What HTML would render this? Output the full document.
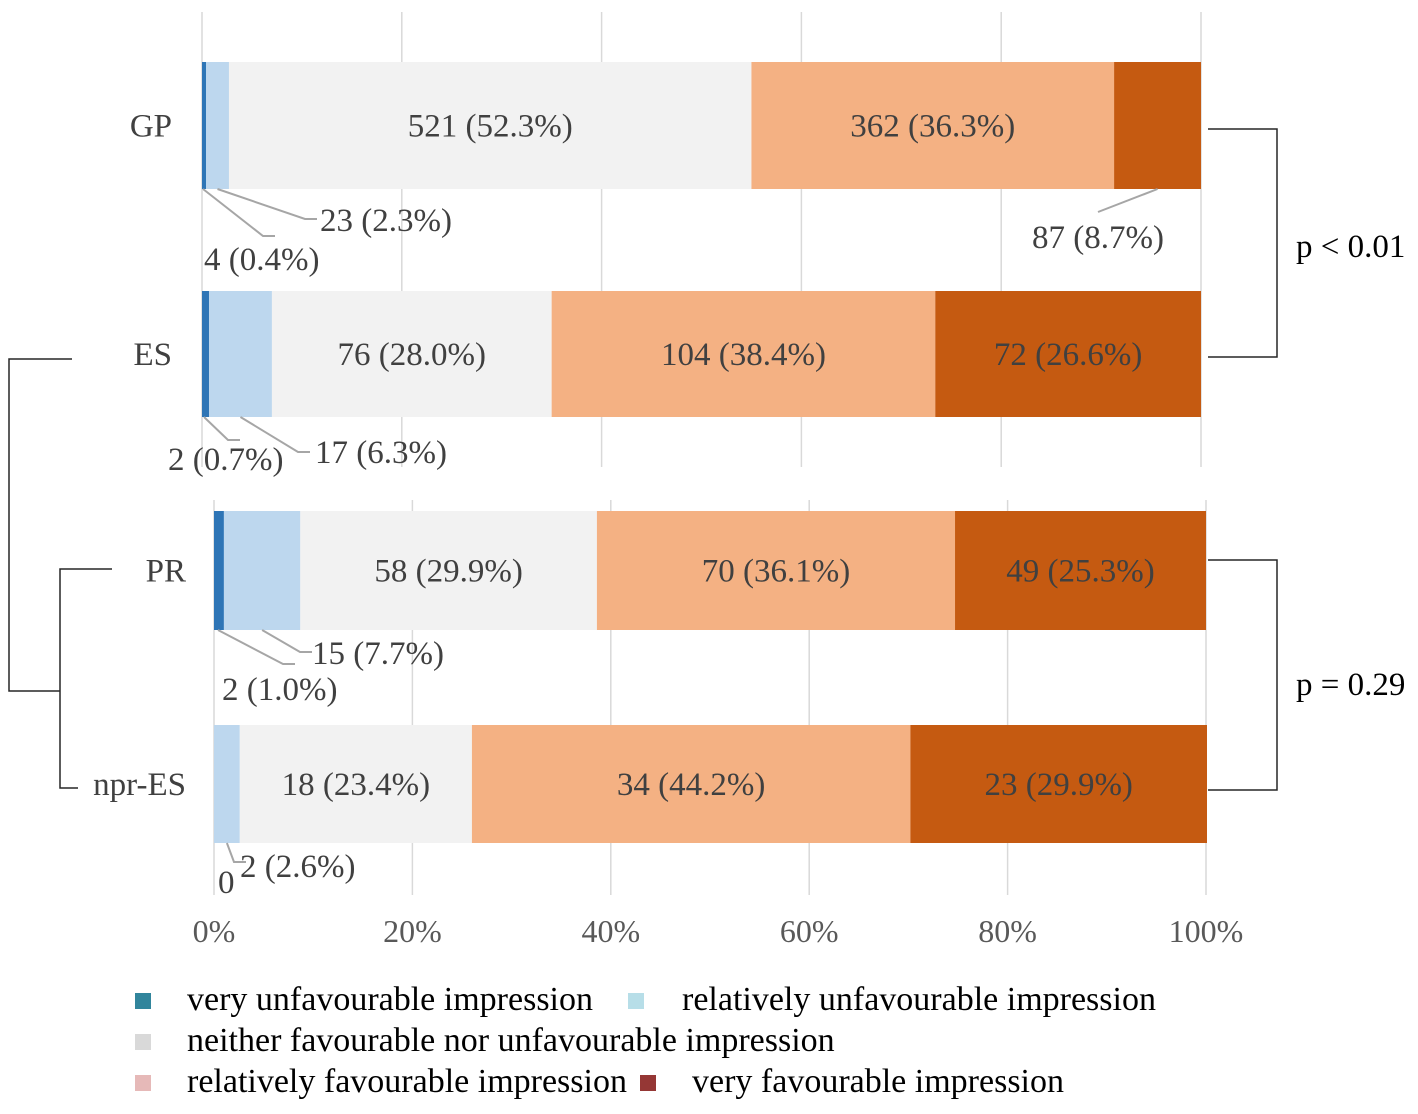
<!DOCTYPE html>
<html><head><meta charset="utf-8"><style>
body{margin:0;background:#fff;}
svg text{font-family:"Liberation Serif",serif;}
</style></head><body>
<svg id="c" width="1418" height="1109" xmlns="http://www.w3.org/2000/svg"></svg>
<script>
const categories=["GP","ES","PR","npr-ES"];
const veryUnfav=[4,2,2,0];
const relUnfav=[23,17,15,2];
const neither=[521,76,58,18];
const relFav=[362,104,70,34];
const veryFav=[87,72,49,23];
const pctVeryUnfav=[0.4,0.7,1.0,0];
const pctRelUnfav=[2.3,6.3,7.7,2.6];
const pctNeither=[52.3,28.0,29.9,23.4];
const pctRelFav=[36.3,38.4,36.1,44.2];
const pctVeryFav=[8.7,26.6,25.3,29.9];
const ticks=[0,20,40,60,80,100];
const legendLabels=["very unfavourable impression","relatively unfavourable impression","neither favourable nor unfavourable impression","relatively favourable impression","very favourable impression"];

const NS="http://www.w3.org/2000/svg";
const svg=document.getElementById('c');
function el(t,a,p){const e=document.createElementNS(NS,t);for(const k in a)e.setAttribute(k,a[k]);(p||svg).appendChild(e);return e;}
const colors=["#2e75b6","#bdd7ee","#f2f2f2","#f4b183","#c55a11"];
const legendColors=["#31859c","#b7dee8","#d9d9d9","#e6b9b8","#953735"];
const counts=[veryUnfav,relUnfav,neither,relFav,veryFav];
const pcts=[pctVeryUnfav,pctRelUnfav,pctNeither,pctRelFav,pctVeryFav];
const panels=[{x0:202,x1:1201,yTop:12,yBot:467,rows:[{i:0,y:62,h:127},{i:1,y:291,h:126}]},
              {x0:214,x1:1206,yTop:500,yBot:895,rows:[{i:2,y:511,h:119},{i:3,y:725,h:118}],ticks:true}];
function fmt(c,p){return c+" ("+p.toFixed(1)+"%)";}
const FS=33;
panels.forEach((P,pi)=>{
  const xs=v=>P.x0+(P.x1-P.x0)*v/100;
  ticks.forEach(t=>{
    const g=el('line',{x1:xs(t),x2:xs(t),y1:P.yTop,y2:P.yBot,stroke:"#d9d9d9","stroke-width":1.5});
    
    
    if(P.ticks){const tx=el('text',{x:xs(t),y:942,"text-anchor":"middle","font-size":32,fill:"#595959"});tx.textContent=t+"%";
      
      }
  });
  P.rows.forEach(R=>{
    const i=R.i;let acc=0;const edges=[];
    for(let s=0;s<5;s++){
      const x=xs(acc),w=xs(acc+pcts[s][i])-x;edges.push([x,w]);
      const r=el('rect',{x:x,y:R.y,width:Math.max(w,0),height:R.h,fill:colors[s]});
      
      
      if(w>150){const t=el('text',{x:x+w/2,y:R.y+R.h/2+11,"text-anchor":"middle","font-size":FS,fill:"#404040"});
        t.textContent=fmt(counts[s][i],pcts[s][i]);
        
        }
      acc+=pcts[s][i];
    }
    const lab=el('text',{x:pi==0?172:186,y:R.y+R.h/2+11,"text-anchor":"end","font-size":FS,fill:"#404040"});
    lab.textContent=categories[i];
    
    
    const yb=R.y+R.h;
    function lead(x1,y1,x2,y2,tx,ty,txt,anchor,nm){
      el('polyline',{points:x1+","+y1+" "+x2+","+y2+(anchor==="start"?" "+(x2+12)+","+y2:""),fill:"none",stroke:"#a6a6a6","stroke-width":2});
      const t=el('text',{x:tx,y:ty,"font-size":FS,fill:"#404040","text-anchor":anchor});t.textContent=txt;
      
      
    }
    const e0=edges[0],e1=edges[1],e4=edges[4];
    if(i===0){
      lead(e0[0]+1,yb,263,236,204,270,fmt(veryUnfav[i],pctVeryUnfav[i]),"start","label-very-unfav-GP");
      lead(e1[0]+e1[1]/2,yb,305,219,320,231,fmt(relUnfav[i],pctRelUnfav[i]),"start","label-rel-unfav-GP");
      lead(e4[0]+e4[1]/2,yb,1098,212,1098,248,fmt(veryFav[i],pctVeryFav[i]),"middle","label-very-fav-GP");
    }else if(i===1){
      lead(e0[0]+2,yb,228,440,168,470,fmt(veryUnfav[i],pctVeryUnfav[i]),"start","label-very-unfav-ES");
      lead(e1[0]+e1[1]/2,yb,298,452,315,463,fmt(relUnfav[i],pctRelUnfav[i]),"start","label-rel-unfav-ES");
    }else if(i===2){
      lead(e0[0]+4,yb,283,664,222,700,fmt(veryUnfav[i],pctVeryUnfav[i]),"start","label-very-unfav-PR");
      lead(e1[0]+e1[1]/2,yb,300,652,312,664,fmt(relUnfav[i],pctRelUnfav[i]),"start","label-rel-unfav-PR");
    }else{
      const t=el('text',{x:218,y:893,"font-size":FS,fill:"#404040"});t.textContent=String(veryUnfav[i]);
      
      
      lead(e1[0]+e1[1]/2,yb,234,862,240,877,fmt(relUnfav[i],pctRelUnfav[i]),"start","label-rel-unfav-npr-ES");
    }
  });
});
// brackets
el('polyline',{points:"1208,129 1277,129 1277,357 1208,357",fill:"none",stroke:"#262626","stroke-width":1.5});
el('polyline',{points:"1208,560 1277,560 1277,790 1208,790",fill:"none",stroke:"#262626","stroke-width":1.5});
el('polyline',{points:"72,359 9,359 9,691 60,691",fill:"none",stroke:"#262626","stroke-width":1.5});
el('polyline',{points:"112,569 60,569 60,788 78,788",fill:"none",stroke:"#262626","stroke-width":1.5});
[["p < 0.01",257],["p = 0.29",695]].forEach((p,k)=>{
  const t=el('text',{x:1296,y:p[1],"font-size":33,fill:"#000"});t.textContent=p[0];
  
  
});
// legend
const lpos=[[135,187,1010],[628,682,1010],[135,187,1051],[135,187,1092],[640,692,1092]];
legendLabels.forEach((l,k)=>{
  const g=el('g',{});
  
  
  el('rect',{x:lpos[k][0],y:lpos[k][2]-17,width:16,height:16,fill:legendColors[k]},g);
  const t=el('text',{x:lpos[k][1],y:lpos[k][2],"font-size":34,fill:"#000"},g);t.textContent=l;
});
</script>
</body></html>
